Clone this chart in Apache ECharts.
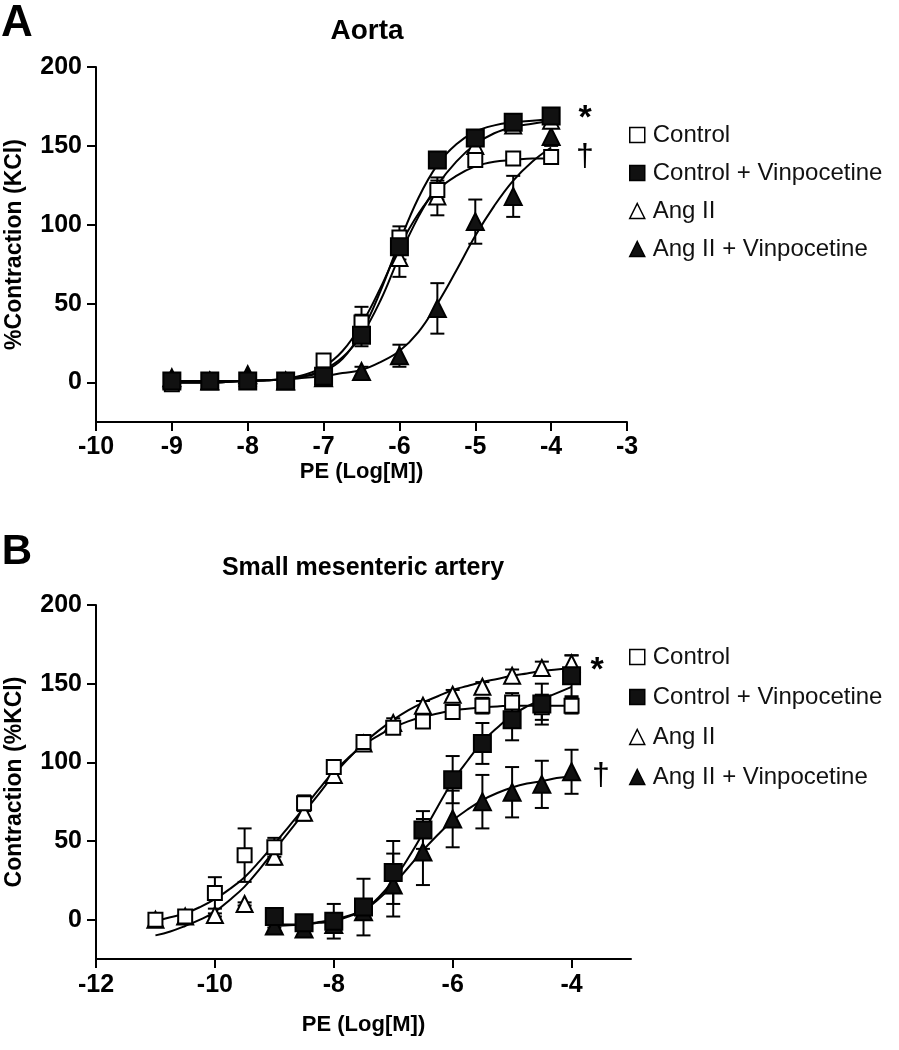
<!DOCTYPE html>
<html>
<head>
<meta charset="utf-8">
<script src="https://cdn.jsdelivr.net/npm/echarts@6/dist/echarts.min.js"></script>
<style>
html,body{margin:0;padding:0;background:#fff;}
#chart{width:899px;height:1050px;}
</style>
</head>
<body>
<div id="chart"></div>
<script>
// ---------- Panel A: Aorta ----------
const xA = [-9, -8.5, -8, -7.5, -7, -6.5, -6, -5.5, -5, -4.5, -4];
const aCtrl      = [-1, 1, 1, 1, 14, 38, 92, 122, 141, 142, 143];
const aCtrlErr   = [1, 1, 1, 1, 3, 10, 7, 6, 4, 3, 3];
const aCtrlV     = [1, 1, 1, 1, 4, 30, 86, 141, 155, 165, 169];
const aCtrlVErr  = [1, 1, 1, 1, 2, 5, 8, 5, 5, 4, 5];
const aAng       = [2, 1, 3, 1, 4, 33, 79, 118, 150, 163, 166];
const aAngErr    = [1, 1, 1, 1, 2, 10, 12, 12, 6, 4, 4];
const aAngV      = [3, 1, 5, 1, 3, 7, 17, 47, 102, 118, 156];
const aAngVErr   = [1, 1, 1, 1, 2, 3, 7, 16, 14, 13, 6];
// fitted curves, every quarter log unit
const xAFit = [-9, -8.75, -8.5, -8.25, -8, -7.75, -7.5, -7.25, -7, -6.75, -6.5, -6.25, -6, -5.75, -5.5, -5.25, -5, -4.75, -4.5, -4.25, -4];
const aCtrlFit  = [0, 0, 0, 0.5, 1, 1.5, 2.5, 5, 10, 20, 37, 60, 86, 107, 122, 131, 137, 140, 141, 142, 142];
const aCtrlVFit = [0, 0, 0, 0.5, 1, 1.5, 2, 4, 7, 15, 32, 58, 89, 117, 138, 151, 159, 163, 165, 166, 167];
const aAngFit   = [0, 0, 0, 0.5, 1, 1.5, 2, 4, 8, 16, 30, 52, 80, 105, 125, 140, 151, 158, 162, 164, 166];
const aAngVFit  = [1, 1, 1, 1, 1, 1.5, 2, 3, 4, 6, 8, 13, 20, 32, 50, 71, 93, 112, 128, 140, 149];
const xTicksA = [-10, -9, -8, -7, -6, -5, -4, -3];
const yTicks = [0, 50, 100, 150, 200];

// ---------- Panel B: Small mesenteric artery ----------
const xB  = [-11, -10.5, -10, -9.5, -9, -8.5, -8, -7.5, -7, -6.5, -6, -5.5, -5, -4.5, -4];
const xBV = [-9, -8.5, -8, -7.5, -7, -6.5, -6, -5.5, -5, -4.5, -4];
const bCtrl      = [0, 2, 17, 41, 46, 74, 97, 113, 122, 126, 132, 136, 138, 135, 136];
const bCtrlErr   = [1, 2, 10, 17, 6, 5, 4, 3, 4, 3, 4, 5, 6, 8, 5];
const bAng       = [0, 2, 3, 10, 40, 68, 92, 112, 125, 136, 143, 148, 155, 160, 163];
const bAngErr    = [1, 1, 1, 1, 5, 5, 4, 3, 3, 3, 3, 3, 4, 4, 5];
const bCtrlV     = [2, -2, -1, 8, 30, 57, 89, 112, 127, 137, 155];
const bCtrlVErr  = [0, 0, 11, 18, 20, 12, 15, 13, 13, 13, 13];
const bAngV      = [-4, -6, -3, 5, 22, 43, 64, 75, 81, 86, 94];
const bAngVErr   = [1, 1, 1, 1, 20, 21, 18, 17, 16, 15, 14];
// fitted curves, every quarter log unit
const xBFit = [-11, -10.75, -10.5, -10.25, -10, -9.75, -9.5, -9.25, -9, -8.75, -8.5, -8.25, -8, -7.75, -7.5, -7.25, -7, -6.75, -6.5, -6.25, -6, -5.75, -5.5, -5.25, -5, -4.75, -4.5, -4.25, -4];
const bCtrlFit = [-1, 1.5, 4, 8, 13, 19.5, 27, 37, 48, 59.5, 71, 83, 94, 103, 111, 117, 122, 126, 129, 131, 133, 134, 135, 135.5, 136, 136, 136, 136, 136];
const bAngFit  = [-10, -7.5, -4, 0, 5, 12.5, 21, 32, 44, 56, 68, 80, 92, 102.5, 112, 120, 127, 133, 138, 142, 146, 148.5, 151, 153, 155, 156.5, 158, 159, 160];
const xBVFit = [-9, -8.75, -8.5, -8.25, -8, -7.75, -7.5, -7.25, -7, -6.75, -6.5, -6.25, -6, -5.75, -5.5, -5.25, -5, -4.75, -4.5, -4.25, -4];
const bCtrlVFit = [-3, -3, -3, -2, -1, 2, 6, 14, 25, 39, 55, 72, 88, 101, 113, 122, 130, 135.5, 140, 144, 148];
const bAngVFit  = [-4, -3.5, -3, -1.5, 0, 2.5, 6, 13, 22, 33, 44, 54, 63, 70, 76, 80.5, 84, 86.5, 88, 90, 91];
const xTicksB = [-12, -10, -8, -6, -4];

const names = ['Control', 'Control + Vinpocetine', 'Ang II', 'Ang II + Vinpocetine'];

const FONT = '"Liberation Sans", Arial, Helvetica, sans-serif';

const pair = (xs, ys) => xs.map((x, i) => [x, ys[i]]);
const triple = (xs, ys, es) => xs.map((x, i) => [x, ys[i], es[i]]);

function errRender(params, api) {
  const x = api.value(0), y = api.value(1), e = api.value(2);
  if (!e) return null;
  const top = api.coord([x, y + e]);
  const bot = api.coord([x, y - e]);
  const hw = 7;
  const st = { stroke: '#000', lineWidth: 2 };
  return {
    type: 'group',
    children: [
      { type: 'line', shape: { x1: top[0], y1: top[1], x2: bot[0], y2: bot[1] }, style: st },
      { type: 'line', shape: { x1: top[0] - hw, y1: top[1], x2: top[0] + hw, y2: top[1] }, style: st },
      { type: 'line', shape: { x1: bot[0] - hw, y1: bot[1], x2: bot[0] + hw, y2: bot[1] }, style: st }
    ]
  };
}

const markerStyle = {
  'Control': { symbol: 'rect', size: 14, color: '#fff' },
  'Control + Vinpocetine': { symbol: 'rect', size: 17, color: '#111' },
  'Ang II': { symbol: 'triangle', size: 16, color: '#fff' },
  'Ang II + Vinpocetine': { symbol: 'triangle', size: 17, color: '#111' }
};

const series = [];
function addPanel(gi, groups) {
  groups.forEach(g => {
    series.push({
      type: 'line', name: g.name + ' fit ' + gi, xAxisIndex: gi, yAxisIndex: gi,
      data: pair(g.fx, g.fit), smooth: 0.4, showSymbol: false,
      symbol: 'none', lineStyle: { color: '#000', width: 2 }, z: 2, silent: true
    });
  });
  groups.forEach(g => {
    series.push({
      type: 'custom', name: g.name + ' err ' + gi, xAxisIndex: gi, yAxisIndex: gi,
      data: triple(g.x, g.y, g.e), renderItem: errRender, encode: { x: 0, y: 1 }, z: 3, silent: true
    });
  });
  groups.forEach(g => {
    const m = markerStyle[g.name];
    series.push({
      type: 'scatter', name: g.name, xAxisIndex: gi, yAxisIndex: gi,
      data: pair(g.x, g.y), symbol: m.symbol, symbolSize: m.size,
      itemStyle: { color: m.color, borderColor: '#000', borderWidth: 2, opacity: 1 },
      z: g.z, silent: true
    });
  });
}

addPanel(0, [
  { name: 'Ang II + Vinpocetine', x: xA, y: aAngV, e: aAngVErr, fx: xAFit, fit: aAngVFit, z: 4 },
  { name: 'Ang II', x: xA, y: aAng, e: aAngErr, fx: xAFit, fit: aAngFit, z: 5 },
  { name: 'Control', x: xA, y: aCtrl, e: aCtrlErr, fx: xAFit, fit: aCtrlFit, z: 6 },
  { name: 'Control + Vinpocetine', x: xA, y: aCtrlV, e: aCtrlVErr, fx: xAFit, fit: aCtrlVFit, z: 7 }
]);
addPanel(1, [
  { name: 'Ang II', x: xB, y: bAng, e: bAngErr, fx: xBFit, fit: bAngFit, z: 4 },
  { name: 'Control', x: xB, y: bCtrl, e: bCtrlErr, fx: xBFit, fit: bCtrlFit, z: 5 },
  { name: 'Ang II + Vinpocetine', x: xBV, y: bAngV, e: bAngVErr, fx: xBVFit, fit: bAngVFit, z: 6 },
  { name: 'Control + Vinpocetine', x: xBV, y: bCtrlV, e: bCtrlVErr, fx: xBVFit, fit: bCtrlVFit, z: 7 }
]);

const axisLine = { show: true, onZero: false, lineStyle: { color: '#000', width: 2 } };
const tickLbl = { color: '#000', fontFamily: FONT, fontWeight: 'bold', fontSize: 25 };

function xAxisDef(gi, min, max, ticks, nameGap, margin) {
  return {
    type: 'value', gridIndex: gi, min: min, max: max,
    name: 'PE (Log[M])', nameLocation: 'middle', nameGap: nameGap,
    nameTextStyle: { color: '#000', fontFamily: FONT, fontWeight: 'bold', fontSize: 22 },
    axisLine: axisLine,
    axisTick: { show: true, inside: false, length: 9, lineStyle: { color: '#000', width: 2 }, customValues: ticks },
    axisLabel: Object.assign({ margin: margin, customValues: ticks }, tickLbl),
    splitLine: { show: false }
  };
}
function yAxisDef(gi, name) {
  return {
    type: 'value', gridIndex: gi, min: -25, max: 200,
    name: name, nameLocation: 'middle', nameGap: 70,
    nameTextStyle: { color: '#000', fontFamily: FONT, fontWeight: 'bold', fontSize: 23 },
    axisLine: axisLine,
    axisTick: { show: true, inside: false, length: 9, lineStyle: { color: '#000', width: 2 }, customValues: yTicks },
    axisLabel: Object.assign({ margin: 14, customValues: yTicks }, tickLbl),
    splitLine: { show: false }
  };
}

function legendIcon(name) {
  const m = markerStyle[name];
  return {
    name: name,
    icon: m.symbol,
    itemStyle: { color: m.color, borderColor: '#000', borderWidth: 1.5 }
  };
}
function legendDef(left, top, gap) {
  return {
    orient: 'vertical', left: left, top: top, itemGap: gap,
    itemWidth: 15, itemHeight: 15, selectedMode: false,
    data: names.map(legendIcon),
    textStyle: { color: '#111', fontFamily: FONT, fontSize: 24, lineHeight: 23, padding: [0, 0, 0, 3] }
  };
}

function txt(x, y, s, font) {
  return {
    type: 'text', x: x, y: y, silent: true,
    style: { text: s, font: font, fill: '#000', align: 'center', verticalAlign: 'middle',
             textAlign: 'center', textVerticalAlign: 'middle' }
  };
}

const option = {
  backgroundColor: '#fff',
  animation: false,
  grid: [
    { left: 96, top: 67, width: 531, height: 355, containLabel: false, outerBoundsMode: 'none' },
    { left: 96, top: 605, width: 535, height: 354, containLabel: false, outerBoundsMode: 'none' }
  ],
  xAxis: [
    xAxisDef(0, -10, -3, xTicksA, 31, 13),
    xAxisDef(1, -12, -3, xTicksB, 55, 14)
  ],
  yAxis: [
    yAxisDef(0, '%Contraction (KCl)'),
    yAxisDef(1, 'Contraction (%KCl)')
  ],
  legend: [legendDef(624, 118, 14), legendDef(624, 640, 16)],
  graphic: [
    txt(17, 24, 'A', 'bold 44px ' + FONT),
    txt(17, 552, 'B', 'bold 42px ' + FONT),
    txt(367, 31, 'Aorta', 'bold 28px ' + FONT),
    txt(363, 568, 'Small mesenteric artery', 'bold 25px ' + FONT),
    txt(585, 119, '*', 'bold 34px ' + FONT),
    txt(585, 157, '†', '32px ' + FONT),
    txt(597, 671, '*', 'bold 34px ' + FONT),
    txt(601, 776, '†', '32px ' + FONT)
  ],
  series: series
};

const chart = echarts.init(document.getElementById('chart'), null, { renderer: 'canvas' });
chart.setOption(option);
</script>
</body>
</html>
